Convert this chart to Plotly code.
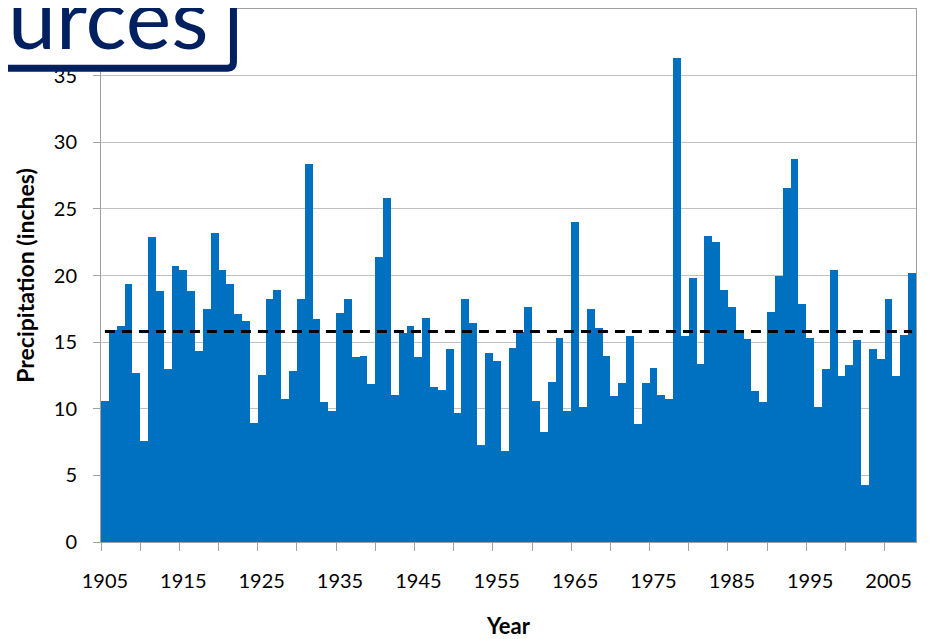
import plotly.graph_objects as go

# annual precipitation
years = list(range(1905, 2009))
precip = [10.6, 15.9, 16.2, 19.35, 12.7, 7.6, 22.9, 18.85, 13.0, 20.7,
          20.4, 18.8, 14.3, 17.5, 23.2, 20.4, 19.35, 17.1, 16.55, 8.9,
          12.5, 18.2, 18.9, 10.75, 12.8, 18.25, 28.4, 16.75, 10.5, 9.8,
          17.2, 18.25, 13.9, 13.95, 11.85, 21.4, 25.8, 11.05, 15.7, 16.2,
          13.85, 16.8, 11.6, 11.4, 14.5, 9.7, 18.25, 16.45, 7.25, 14.2,
          13.6, 6.8, 14.55, 15.75, 17.65, 10.55, 8.25, 12.0, 15.3, 9.85,
          24.0, 10.15, 17.5, 16.05, 13.95, 10.95, 11.95, 15.45, 8.85, 11.95,
          13.05, 11.0, 10.75, 36.3, 15.45, 19.8, 13.35, 22.95, 22.5, 18.9,
          17.6, 15.8, 15.25, 11.3, 10.5, 17.25, 19.95, 26.6, 28.75, 17.85,
          15.3, 10.15, 12.95, 20.45, 12.45, 13.25, 15.15, 4.25, 14.5, 13.75,
          18.25, 12.45, 15.55, 20.2]
average = 15.8

label_years = list(range(1905, 2009, 10))
y_ticks = [0, 5, 10, 15, 20, 25, 30, 35]

FONT = "Lato"
grid = "#c0c0c0"
axis = "#a0a0a0"

fig = go.Figure()
fig.add_trace(go.Bar(x=years, y=precip, marker=dict(color="#0070C0", line=dict(width=0))))
fig.add_trace(go.Scatter(x=[years[0], years[-1]], y=[average, average], mode="lines",
                         line=dict(color="black", width=3, dash="10px,7px")))

# page has an 8px body margin, so the margins are offset to land the plot area in place
fig.update_layout(
    width=936, height=639,
    margin=dict(l=93, r=28, t=1, b=105),
    plot_bgcolor="white", paper_bgcolor="white",
    showlegend=False, bargap=0,
    font=dict(family=FONT, size=20, color="black"),
)

fig.update_xaxes(
    range=[years[0] - 0.5, years[-1] + 0.5],
    tickvals=label_years, ticks="", ticklabelstandoff=21,
    minor=dict(tickvals=[y - 0.5 for y in range(years[0], years[-1] + 2, 5)],
               ticks="outside", ticklen=8, tickcolor=axis, showgrid=False),
    showgrid=False, showline=True, linecolor=axis, linewidth=1, mirror=True,
    title=dict(text="<b>Year</b>", font=dict(size=22), standoff=27),
    zeroline=False,
)
fig.update_yaxes(
    range=[0, 40], tickvals=y_ticks, ticks="outside", ticklen=7, tickcolor=axis,
    ticklabelstandoff=12,
    showgrid=True, gridcolor=grid, gridwidth=1,
    showline=True, linecolor=axis, linewidth=1, mirror=True,
    title=dict(text="<b>Precipitation (inches)</b>", font=dict(size=23), standoff=12),
    zeroline=False,
)

# cropped slide title box in the top-left corner (rounded bottom-right corner)
bx0, bx1, by0, by1 = -0.17, 0.1625, 0.889, 1.1
rx, ry = 0.007, 0.011
fig.add_shape(type="path", xref="paper", yref="paper",
              path=f"M {bx0},{by1} L {bx1},{by1} L {bx1},{by0 + ry} "
                   f"Q {bx1},{by0} {bx1 - rx},{by0} L {bx0},{by0} Z",
              line=dict(color="#002060", width=7), fillcolor="white", layer="above")
fig.add_annotation(text="urces", xref="paper", yref="paper", x=0.1337, y=0.9869,
                   xanchor="right", yanchor="middle", showarrow=False,
                   font=dict(family=FONT, size=86, color="#002060"))

fig.write_html("out.html")
